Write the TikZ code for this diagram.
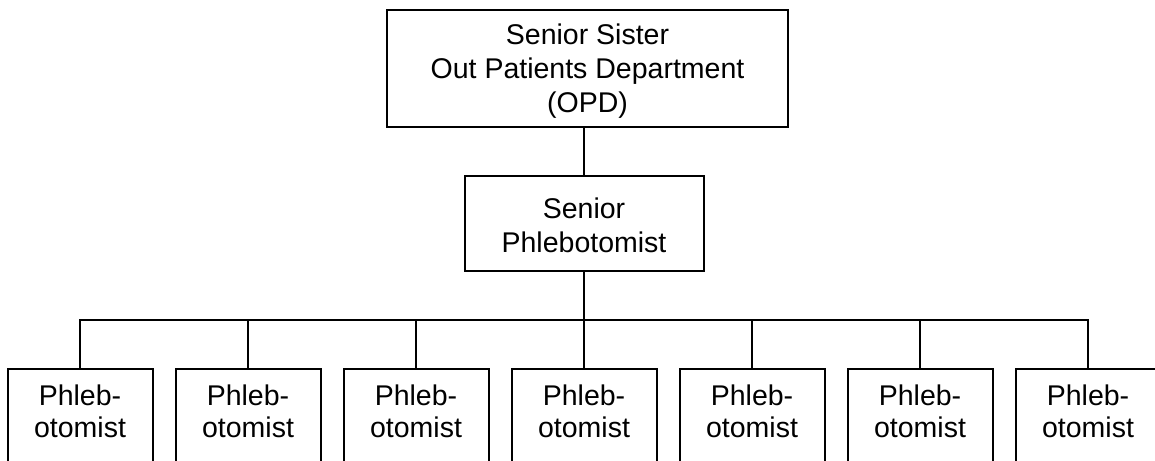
\documentclass[tikz,border=0pt]{standalone}
\usepackage{fontspec}
\setmainfont{Liberation Sans}
\begin{document}
\begin{tikzpicture}[x=1pt,y=-1pt,
  box/.style={draw=black, line width=2pt, fill=white, inner sep=0pt},
  txt/.style={align=center, inner sep=0pt, font=\fontsize{28.5}{34}\selectfont},
  ptxt/.style={align=center, inner sep=0pt, font=\fontsize{28.5}{32}\selectfont},
  wire/.style={draw=black, line width=2pt}]
\useasboundingbox (0,0) rectangle (1155,460);
\clip (0,0) rectangle (1155,460);
\fill[white] (0,0) rectangle (1155,460);
% top box
\node[box, minimum width=401pt, minimum height=117pt] (top) at (587.5,68.5) {};
\node[txt] (toptxt) at (587.5,71) {Senior Sister\\Out Patients Department\\(OPD)};
% middle box
\node[box, minimum width=239pt, minimum height=95pt] (mid) at (584,223.5) {};
\node[txt] (midtxt) at (584,225) {Senior\\Phlebotomist};
\coordinate (busL) at (79,320);
\coordinate (busR) at (1089,320);
\draw[wire] (mid.north) -- (mid.north |- top.south);
\draw[wire] (mid.south) -- (mid.south |- busL);
\draw[wire] (busL) -- (busR);
% bottom boxes
\foreach \i/\x in {1/80,2/248,3/416,4/584,5/752,6/920,7/1088}{
  \node[box, anchor=north, minimum width=145pt, minimum height=130pt] (p\i) at (\x,368) {};
  \node[ptxt] (t\i) at (\x,411) {Phleb-\\otomist};
  \draw[wire] (p\i.north) -- (p\i.north |- busL);
}
\end{tikzpicture}
\end{document}
